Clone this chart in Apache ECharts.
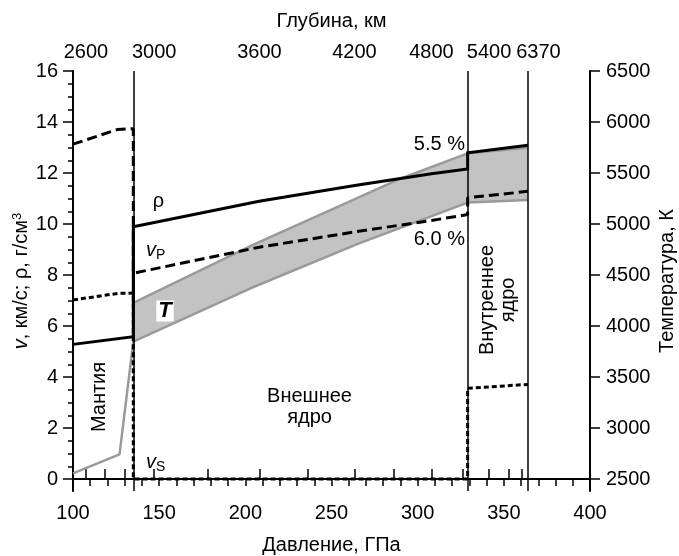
<!DOCTYPE html>
<html>
<head>
<meta charset="utf-8">
<script src="https://cdn.jsdelivr.net/npm/echarts@6/dist/echarts.min.js"></script>
<style>
html, body { margin: 0; padding: 0; background: #fff; }
#chart { width: 679px; height: 556px; }
</style>
</head>
<body>
<div id="chart"></div>
<script>
// Layer boundaries (GPa): core-mantle, inner-core, centre of the Earth
const boundaries = [135, 329, 364];

// Density, g/cm3, against pressure (GPa); repeated pressures give the jumps
const rho = [[100, 5.28], [135, 5.58], [135, 9.89], [208, 10.89], [263.5, 11.51], [308, 11.97], [329, 12.16],
             [329, 12.79], [364, 13.09]];
// P-wave velocity, km/s
const vP = [[100, 13.13], [126, 13.71], [135, 13.74], [135, 8.07], [208, 9.09], [263.5, 9.69], [308, 10.14],
            [329, 10.37], [329, 11.03], [364, 11.28]];
// S-wave velocity, km/s
const vS = [[100, 7.02], [126, 7.28], [135, 7.29], [135, 0], [329, 0], [329, 3.56], [364, 3.71]];

// Temperature, K
const tempMantle = [[100, 2556], [127, 2742], [135, 3846]];
const tempUpper = [[135, 4228], [205, 4800], [250, 5140], [288, 5431], [329, 5693], [364, 5748]];
const tempLower = [[135, 3846], [203, 4370], [266, 4810], [329, 5210], [364, 5235]];

// Depth scale (km) placed at the matching pressures on the top axis
const depthTicks = [107.5, 118.7, 129.9, 147.1, 178.1, 208.2, 236.5, 263.3, 286.4, 308.0, 325.9, 341.4, 353.0, 360.4];
const depthLabelAt = [107.5, 147.1, 208.2, 263.3, 308.0, 341.4, 364];
const depthLabels = ['2600', '3000', '3600', '4200', '4800', '5400', '6370'];

// Left and right tick values
const leftMajor = [0, 2, 4, 6, 8, 10, 12, 14, 16];
const leftMinor = [0.5, 1, 1.5, 2.5, 3, 3.5, 4.5, 5, 5.5, 6.5, 7, 7.5, 8.5, 9, 9.5, 10.5, 11, 11.5,
                   12.5, 13, 13.5, 14.5, 15, 15.5];
const tempTicks = [2500, 3000, 3500, 4000, 4500, 5000, 5500, 6000, 6500];

const FONT = 'Liberation Sans, Arial, Helvetica, sans-serif';
const V_MIN = -0.47, V_MAX = 16;
// temperature axis shares the frame: 0..16 maps onto 2500..6500 K
const T_MIN = 2500 + 250 * V_MIN, T_MAX = 6500;

const chart = echarts.init(document.getElementById('chart'), null, { renderer: 'canvas' });

const txt = { fontFamily: FONT, fontSize: 20, color: '#000' };
const lineBase = { type: 'line', showSymbol: false, symbol: 'none', animation: false, silent: true };
const plain = function (v) { return String(v); };

const option = {
  animation: false,
  backgroundColor: '#fff',
  textStyle: { fontFamily: FONT, color: '#000' },
  grid: { left: 73, right: 89, top: 71, bottom: 65, containLabel: false, outerBoundsMode: 'none' },
  xAxis: [
    {
      type: 'value', position: 'bottom', min: 100, max: 400, interval: 50,
      name: 'Давление, ГПа', nameLocation: 'middle', nameGap: 44, nameMoveOverlap: false,
      nameTextStyle: txt,
      axisLine: { show: true, lineStyle: { color: '#000', width: 2 } },
      axisTick: { show: true, inside: false, length: 7, lineStyle: { color: '#000', width: 1.5 } },
      minorTick: { show: true, splitNumber: 5, length: 7, lineStyle: { color: '#000', width: 1.5 } },
      axisLabel: Object.assign({ margin: 12, formatter: plain }, txt),
      splitLine: { show: false }, minorSplitLine: { show: false }
    },
    {
      type: 'value', position: 'top', min: 100, max: 400,
      name: 'Глубина, км', nameLocation: 'middle', nameGap: 40, nameMoveOverlap: false,
      nameTextStyle: txt,
      axisLine: { show: true, lineStyle: { color: '#000', width: 2 } },
      axisTick: { show: true, inside: false, length: 10, customValues: depthTicks,
                  lineStyle: { color: '#000', width: 1.5 } },
      axisLabel: Object.assign({
        margin: 9, customValues: depthLabelAt, hideOverlap: false,
        formatter: function (val) {
          const i = depthLabelAt.findIndex(function (p) { return Math.abs(p - val) < 0.01; });
          if (i < 0) return '';
          return i === depthLabels.length - 1 ? '{s|' + depthLabels[i] + '}' : depthLabels[i];
        },
        rich: { s: { fontFamily: FONT, fontSize: 20, color: '#000', padding: [0, 0, 0, 21] } }
      }, txt),
      splitLine: { show: false }
    }
  ],
  yAxis: [
    {
      type: 'value', position: 'left', min: V_MIN, max: V_MAX,
      name: '{i|v}, км/с; ρ, г/см{u|3}', nameLocation: 'middle', nameRotate: 90, nameGap: 42,
      nameMoveOverlap: false,
      nameTextStyle: Object.assign({
        rich: {
          i: { fontFamily: FONT, fontSize: 20, fontStyle: 'italic', color: '#000' },
          u: { fontFamily: FONT, fontSize: 13, color: '#000', verticalAlign: 'top' }
        }
      }, txt),
      axisLine: { show: true, lineStyle: { color: '#000', width: 2 } },
      axisTick: { show: true, inside: false, length: 10, customValues: leftMajor,
                  lineStyle: { color: '#000', width: 1.5 } },
      axisLabel: Object.assign({ margin: 15, customValues: leftMajor, formatter: plain }, txt),
      splitLine: { show: false }
    },
    {
      type: 'value', position: 'right', min: T_MIN, max: T_MAX,
      name: 'Температура, К', nameLocation: 'middle', nameRotate: 90, nameGap: 67,
      nameMoveOverlap: false,
      nameTextStyle: txt,
      axisLine: { show: true, lineStyle: { color: '#000', width: 2 } },
      axisTick: { show: true, inside: false, length: 10, customValues: tempTicks,
                  lineStyle: { color: '#000', width: 1.5 } },
      axisLabel: Object.assign({ margin: 16, customValues: tempTicks, formatter: plain }, txt),
      splitLine: { show: false }
    },
    {
      // short half-unit ticks on the left
      type: 'value', position: 'left', min: V_MIN, max: V_MAX,
      axisLine: { show: false },
      axisTick: { show: true, inside: false, length: 5, customValues: leftMinor,
                  lineStyle: { color: '#000', width: 1.5 } },
      axisLabel: { show: false },
      splitLine: { show: false }
    }
  ],
  series: [
    {
      // temperature range in the core
      type: 'custom', xAxisIndex: 0, yAxisIndex: 1, silent: true, animation: false, z: 1,
      data: [0],
      renderItem: function (params, api) {
        const pts = tempUpper.map(function (p) { return api.coord(p); })
          .concat(tempLower.slice().reverse().map(function (p) { return api.coord(p); }));
        return { type: 'polygon', shape: { points: pts }, style: { fill: '#c3c3c3', stroke: null } };
      }
    },
    Object.assign({}, lineBase, {
      name: 'T upper', xAxisIndex: 0, yAxisIndex: 1, z: 2, data: tempUpper,
      lineStyle: { color: '#9a9a9a', width: 2.5 }
    }),
    Object.assign({}, lineBase, {
      name: 'T lower', xAxisIndex: 0, yAxisIndex: 1, z: 2, data: tempMantle.concat(tempLower.slice(1)),
      lineStyle: { color: '#9a9a9a', width: 2.5 }
    }),
    Object.assign({}, lineBase, {
      name: 'rho', xAxisIndex: 0, yAxisIndex: 0, z: 4, data: rho,
      lineStyle: { color: '#000', width: 3, cap: 'butt', join: 'miter' },
      markLine: {
        silent: true, animation: false, symbol: ['none', 'none'], label: { show: false },
        lineStyle: { color: '#000', width: 1.5, type: 'solid' },
        data: boundaries.map(function (b) { return { xAxis: b }; })
      }
    }),
    Object.assign({}, lineBase, {
      name: 'vP', xAxisIndex: 0, yAxisIndex: 0, z: 4, data: vP,
      lineStyle: { color: '#000', width: 3, type: [10, 5], cap: 'butt' }
    }),
    Object.assign({}, lineBase, {
      name: 'vS', xAxisIndex: 0, yAxisIndex: 0, z: 4, data: vS,
      lineStyle: { color: '#000', width: 3, type: [5, 3], cap: 'butt' }
    })
  ],
  graphic: [
    { type: 'text', x: 158.5, y: 201, z: 100,
      style: { text: 'ρ', fontFamily: FONT, fontSize: 20, fill: '#000', align: 'center', verticalAlign: 'middle' } },
    { type: 'text', x: 146, y: 250, z: 100,
      style: { text: '{v|v}{s|P}', fill: '#000', align: 'left', verticalAlign: 'middle',
        rich: { v: { fontFamily: FONT, fontSize: 20, fontStyle: 'italic', fill: '#000' },
                s: { fontFamily: FONT, fontSize: 14, fill: '#000', padding: [10, 0, 0, 0] } } } },
    { type: 'text', x: 146, y: 462, z: 100,
      style: { text: '{v|v}{s|S}', fill: '#000', align: 'left', verticalAlign: 'middle',
        rich: { v: { fontFamily: FONT, fontSize: 20, fontStyle: 'italic', fill: '#000' },
                s: { fontFamily: FONT, fontSize: 14, fill: '#000', padding: [10, 0, 0, 0] } } } },
    { type: 'text', x: 165, y: 311, z: 100,
      style: { text: 'T', fontFamily: FONT, fontSize: 22, fontWeight: 'bold', fontStyle: 'italic',
        fill: '#000', align: 'center', verticalAlign: 'middle', backgroundColor: '#fff',
        padding: [0, 2, 0, 2], lineHeight: 21 } },
    { type: 'text', x: 465, y: 144, z: 100,
      style: { text: '5.5 %', fontFamily: FONT, fontSize: 20, fill: '#000', align: 'right', verticalAlign: 'middle' } },
    { type: 'text', x: 465, y: 239, z: 100,
      style: { text: '6.0 %', fontFamily: FONT, fontSize: 20, fill: '#000', align: 'right', verticalAlign: 'middle' } },
    { type: 'text', x: 99, y: 397, rotation: Math.PI / 2, z: 100,
      style: { text: 'Мантия', fontFamily: FONT, fontSize: 20, fill: '#000', align: 'center', verticalAlign: 'middle' } },
    { type: 'text', x: 309.5, y: 406.5, z: 100,
      style: { text: 'Внешнее\nядро', fontFamily: FONT, fontSize: 20, lineHeight: 21, fill: '#000',
        align: 'center', verticalAlign: 'middle' } },
    { type: 'text', x: 498, y: 300, rotation: Math.PI / 2, z: 100,
      style: { text: 'Внутреннее\nядро', fontFamily: FONT, fontSize: 20, lineHeight: 21, fill: '#000',
        align: 'center', verticalAlign: 'middle' } }
  ]
};

chart.setOption(option);
</script>
</body>
</html>
